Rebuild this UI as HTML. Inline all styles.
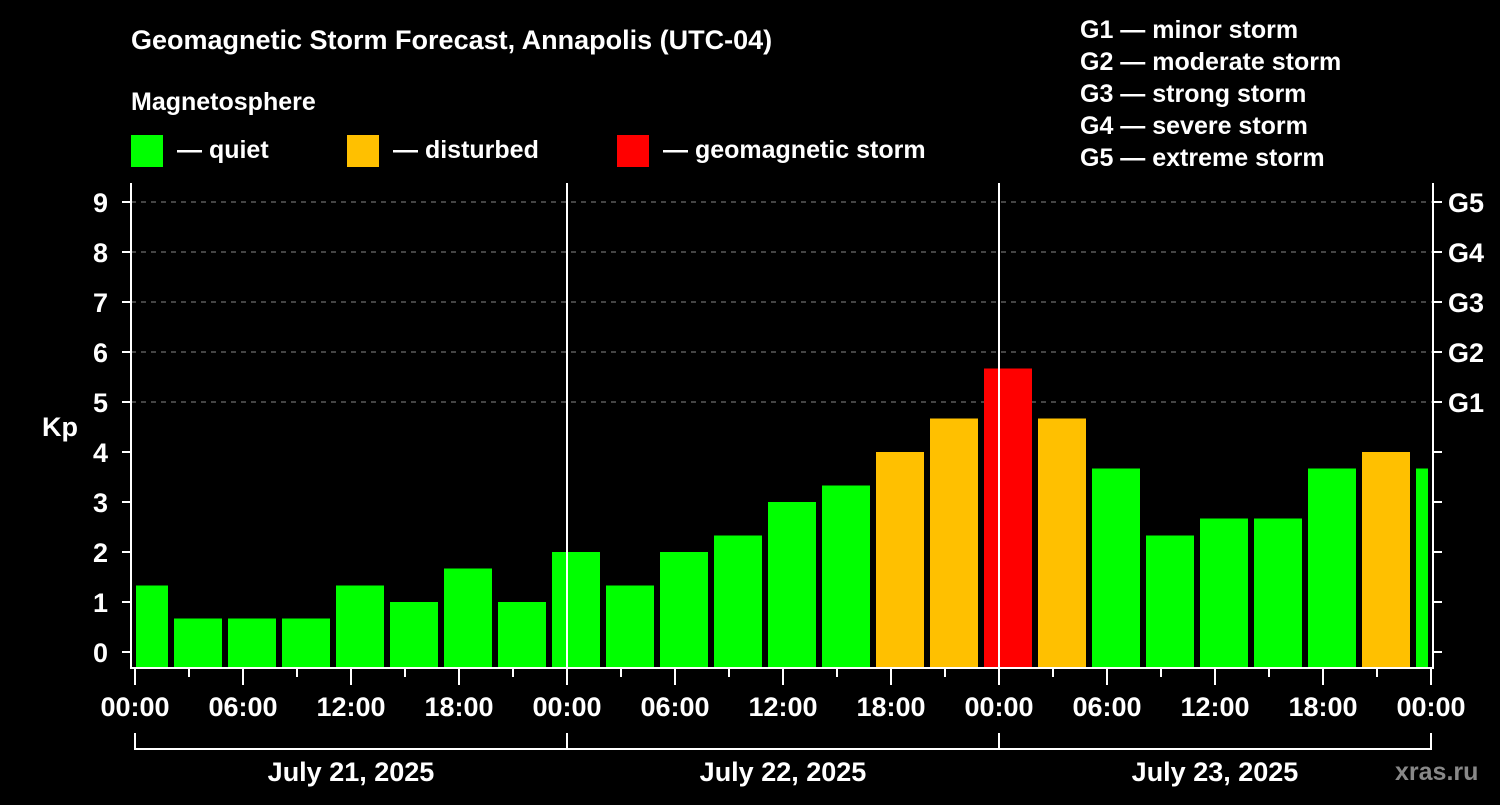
<!DOCTYPE html>
<html><head><meta charset="utf-8"><style>
body{margin:0;background:#000;width:1500px;height:800px;overflow:hidden;font-family:"Liberation Sans",Arial,sans-serif}
svg text{font-family:"Liberation Sans",Arial,sans-serif;font-weight:bold;fill:#fff}
</style></head><body>
<svg id="c" width="1500" height="800" xmlns="http://www.w3.org/2000/svg">
<text x="131" y="49" font-size="27">Geomagnetic Storm Forecast, Annapolis (UTC-04)</text>
<text x="131" y="110" font-size="25">Magnetosphere</text>
<g><rect x="131" y="135" width="32" height="32" fill="#00ff00"/><text x="177" y="158" font-size="25">— quiet</text></g>
<g><rect x="347" y="135" width="32" height="32" fill="#ffc000"/><text x="393" y="158" font-size="25">— disturbed</text></g>
<g><rect x="617" y="135" width="32" height="32" fill="#ff0000"/><text x="663" y="158" font-size="25">— geomagnetic storm</text></g>
<g font-size="25">
<text x="1080" y="38">G1 — minor storm</text>
<text x="1080" y="70">G2 — moderate storm</text>
<text x="1080" y="102">G3 — strong storm</text>
<text x="1080" y="134">G4 — severe storm</text>
<text x="1080" y="166">G5 — extreme storm</text>
</g>
<text x="42" y="436" font-size="27">Kp</text>
<text x="1395" y="780" font-size="25" style="fill:#888">xras.ru</text>
<g id="grid"></g><g id="bars"></g><g id="axes"></g>
</svg>
<script>
const kpValues=[1.33,0.67,0.67,0.67,1.33,1.0,1.67,1.0,2.0,1.33,2.0,2.33,3.0,3.33,4.0,4.67,5.67,4.67,3.67,2.33,2.67,2.67,3.67,4.0,3.67];
const yTicks=[0,1,2,3,4,5,6,7,8,9];
const gLabels=["G1","G2","G3","G4","G5"];
const gLevels=[5,6,7,8,9];
const xTickLabels=["00:00","06:00","12:00","18:00","00:00","06:00","12:00","18:00","00:00","06:00","12:00","18:00","00:00"];
const dateLabels=["July 21, 2025","July 22, 2025","July 23, 2025"];
const NS="http://www.w3.org/2000/svg";
const L=131,R=1433,T=183,B=668,X0=135;
const y=v=>652-v*50;
const x=h=>X0+h*18;
function mk(tag,attrs,parent,txt){const e=document.createElementNS(NS,tag);for(const k in attrs)e.setAttribute(k,attrs[k]);if(txt!=null)e.textContent=txt;parent.appendChild(e);return e;}
const grid=document.getElementById('grid'),bars=document.getElementById('bars'),axes=document.getElementById('axes');
gLevels.forEach((v,i)=>{
 const g=mk('line',{x1:L,x2:R,y1:y(v),y2:y(v),stroke:'#888','stroke-width':1,'stroke-dasharray':'5,5'},grid);
 
 
 const t=mk('text',{x:1448,y:y(v)+10,'font-size':27},axes,gLabels[i]);
 
 
});
kpValues.forEach((v,i)=>{
 const c=v>=5?'#ff0000':(v>=4?'#ffc000':'#00ff00');
 const cx=x(0.5+3*i);
 const x1=Math.max(cx-24,L+5),x2=Math.min(cx+24,R-5);
 const r=mk('rect',{x:x1,y:y(v),width:x2-x1,height:B-y(v),fill:c},bars);
 
 
});
const frame=mk('path',{d:`M${L} ${T}V${B}H${R}V${T}`,stroke:'#fff','stroke-width':2,fill:'none'},axes);


[1,2].forEach(d=>{const l=mk('line',{x1:x(24*d),x2:x(24*d),y1:T,y2:B,stroke:'#fff','stroke-width':2},axes);
 
 });
yTicks.forEach(v=>{
 mk('line',{x1:122,x2:L,y1:y(v),y2:y(v),stroke:'#fff','stroke-width':2},axes);
 mk('line',{x1:R,x2:1442,y1:y(v),y2:y(v),stroke:'#fff','stroke-width':2},axes);
 const t=mk('text',{x:108,y:y(v)+10,'font-size':27,'text-anchor':'end'},axes,String(v));
 
 
});
for(let h=0;h<=72;h+=3){mk('line',{x1:x(h),x2:x(h),y1:B,y2:h%6?677:685,stroke:'#fff','stroke-width':2},axes);}
xTickLabels.forEach((s,i)=>{const t=mk('text',{x:x(i*6),y:716,'font-size':27,'text-anchor':'middle'},axes,s);
 
 });
const br=mk('path',{d:`M${x(0)} 733V749H${x(72)}V733M${x(24)} 733V749M${x(48)} 733V749`,stroke:'#fff','stroke-width':2,fill:'none'},axes);


dateLabels.forEach((s,i)=>{const t=mk('text',{x:x(24*i+12),y:781,'font-size':27,'text-anchor':'middle'},axes,s);
 
 });
</script>
</body></html>
